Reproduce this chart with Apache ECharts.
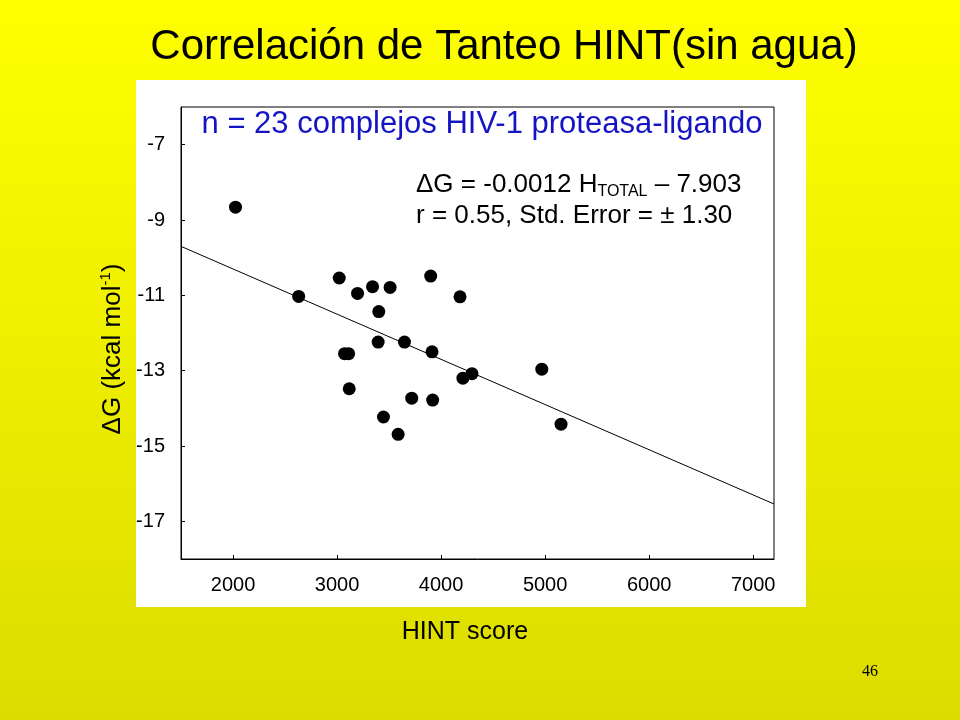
<!DOCTYPE html>
<html>
<head>
<meta charset="utf-8">
<script src="https://cdn.jsdelivr.net/npm/echarts@6/dist/echarts.min.js"></script>
<style>html,body{margin:0;padding:0;}#c{width:960px;height:720px;}</style>
</head>
<body>
<div id="c"></div>
<script>
// ---- data ----
const hintScore = [2024, 2631, 3021, 3197, 3341, 3510, 3401, 3900, 4182, 3395, 3648, 3913,
                   3072, 3111, 3117, 3718, 3919, 3446, 3587, 4210, 4297, 4968, 5153];
const deltaG    = [-8.66, -11.03, -10.54, -10.95, -10.77, -10.79, -11.43, -10.49, -11.04, -12.24, -12.24, -12.50,
                   -12.55, -12.55, -13.48, -13.73, -13.78, -14.23, -14.69, -13.20, -13.08, -12.96, -14.42];
const fitX = [1500, 7200];
const fitY = [-9.70, -16.54];
const xTicks = [2000, 3000, 4000, 5000, 6000, 7000];
const yTicks = [-17, -15, -13, -11, -9, -7];

const titleText = 'Correlación de Tanteo HINT(sin agua)';
const subtitleText = 'n = 23 complejos HIV-1 proteasa-ligando';
const xName = 'HINT score';
const pageNo = '46';

const FONT = '"Liberation Sans", Arial, Helvetica, sans-serif';

const chart = echarts.init(document.getElementById('c'), null, {renderer: 'canvas'});
const option = {
  animation: false,
  backgroundColor: {
    type: 'linear', x: 0, y: 0, x2: 0, y2: 1,
    colorStops: [{offset: 0, color: '#ffff00'}, {offset: 1, color: '#dcdc00'}]
  },
  grid: {
    left: 181, top: 107, width: 593, height: 452,
    show: true, borderColor: '#000', borderWidth: 1, backgroundColor: 'transparent'
  },
  xAxis: {
    type: 'value', min: 1500, max: 7200,
    axisLine: {show: true, lineStyle: {color: '#000', width: 1}},
    axisTick: {show: true, inside: true, length: 4, customValues: xTicks, lineStyle: {color: '#000'}},
    axisLabel: {customValues: xTicks, margin: 16, color: '#000', fontSize: 20, fontFamily: FONT,
      formatter: v => String(v)},
    splitLine: {show: false}
  },
  yAxis: {
    type: 'value', min: -18, max: -6,
    axisLine: {show: true, lineStyle: {color: '#000', width: 1}},
    axisTick: {show: true, inside: true, length: 4, customValues: yTicks, lineStyle: {color: '#000'}},
    axisLabel: {customValues: yTicks, margin: 16, color: '#000', fontSize: 20, fontFamily: FONT,
      formatter: v => String(v)},
    splitLine: {show: false}
  },
  series: [
    {
      type: 'line',
      data: fitX.map((x, i) => [x, fitY[i]]),
      showSymbol: false, symbol: 'none',
      lineStyle: {color: '#000', width: 1},
      z: 2
    },
    {
      type: 'scatter',
      data: hintScore.map((x, i) => [x, deltaG[i]]),
      symbol: 'circle', symbolSize: 13,
      itemStyle: {color: '#000', opacity: 1},
      z: 3
    }
  ],
  graphic: [
    {type: 'rect', z: -10, shape: {x: 136, y: 80, width: 670, height: 527}, style: {fill: '#ffffff'}},
    {type: 'text', x: 504, y: 47, style: {text: titleText, font: '42px ' + FONT, fill: '#000',
      textAlign: 'center', textVerticalAlign: 'middle', align: 'center', verticalAlign: 'middle'}},
    {type: 'text', x: 482, y: 124, style: {text: subtitleText, font: '31px ' + FONT, fill: '#1414c4',
      textAlign: 'center', textVerticalAlign: 'middle', align: 'center', verticalAlign: 'middle'}},
    {type: 'text', x: 416, y: 185, style: {
      text: '{m|ΔG = -0.0012 H}{s|TOTAL}{m| – 7.903}',
      rich: {
        m: {fontSize: 26, fontFamily: FONT, fill: '#000', color: '#000', lineHeight: 30},
        s: {fontSize: 16, fontFamily: FONT, fill: '#000', color: '#000', verticalAlign: 'bottom', lineHeight: 30}
      },
      textAlign: 'left', textVerticalAlign: 'middle', align: 'left', verticalAlign: 'middle'}},
    {type: 'text', x: 416, y: 216, style: {text: 'r = 0.55, Std. Error = ± 1.30', font: '26px ' + FONT, fill: '#000',
      textAlign: 'left', textVerticalAlign: 'middle', align: 'left', verticalAlign: 'middle'}},
    {type: 'text', x: 113, y: 349, rotation: Math.PI / 2, style: {
      text: '{m|ΔG (kcal mol}{s|-1}{m|)}',
      rich: {
        m: {fontSize: 26, fontFamily: FONT, fill: '#000', color: '#000', lineHeight: 30},
        s: {fontSize: 15, fontFamily: FONT, fill: '#000', color: '#000', verticalAlign: 'top', lineHeight: 30}
      },
      textAlign: 'center', textVerticalAlign: 'middle', align: 'center', verticalAlign: 'middle'}},
    {type: 'text', x: 465, y: 632, style: {text: xName, font: '25px ' + FONT, fill: '#000',
      textAlign: 'center', textVerticalAlign: 'middle', align: 'center', verticalAlign: 'middle'}},
    {type: 'text', x: 870, y: 672, style: {text: pageNo, font: '16px "Liberation Serif", "Times New Roman", serif', fill: '#000',
      textAlign: 'center', textVerticalAlign: 'middle', align: 'center', verticalAlign: 'middle'}}
  ]
};
chart.setOption(option);
</script>
</body>
</html>
